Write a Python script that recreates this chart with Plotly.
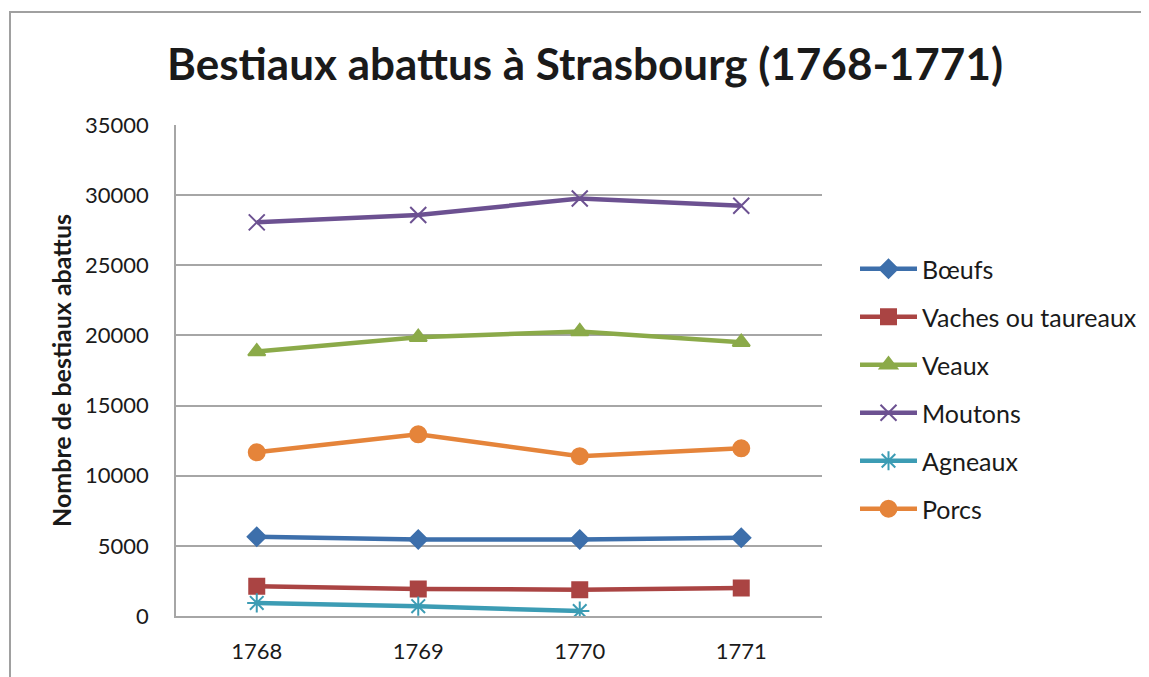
import plotly.graph_objects as go

years = ["1768", "1769", "1770", "1771"]
boeufs = [5650, 5460, 5460, 5580]
vaches = [2120, 1930, 1880, 2000]
veaux = [18850, 19870, 20280, 19520]
moutons = [28060, 28580, 29760, 29240]
agneaux = [930, 700, 350, None]
porcs = [11670, 12950, 11390, 11950]

series = [
    ("Bœufs", boeufs, "#3D6FAB", "diamond", 14),
    ("Vaches ou taureaux", vaches, "#AA4443", "square", 15),
    ("Veaux", veaux, "#8BAA49", "triangle-up", 15),
    ("Moutons", moutons, "#6C5191", "x-thin-open", 16),
    ("Agneaux", agneaux, "#3C9CB4", "asterisk-open", 16),
    ("Porcs", porcs, "#E5843A", "circle", 16),
]

FONT = "Lato, 'Open Sans', sans-serif"
W, H = 1141, 669
L, T, R, B = 168, 117, 814, 608  # plot area in figure px
PW, PH = R - L, B - T

def px(xp):
    return (xp - L) / PW

def py(yp):
    return (B - yp) / PH

fig = go.Figure()
x = list(range(len(years)))
for i, (name, vals, col, sym, sz) in enumerate(series):
    fig.add_trace(go.Scatter(
        x=x, y=vals, name=name, mode="lines+markers",
        line=dict(color=col, width=4.5),
        marker=dict(symbol=sym, size=sz, color=col,
                    line=dict(color=col, width=2)),
        legendgroup=f"g{i}",
        connectgaps=False,
    ))

fig.update_layout(
    width=W, height=H,
    margin=dict(l=L, r=W - R, t=T, b=H - B, autoexpand=False),
    paper_bgcolor="white", plot_bgcolor="white",
    font=dict(family=FONT, size=22, color="#1a1a1a"),
    title=dict(text="<b>Bestiaux abattus à Strasbourg (1768-1771)</b>",
               x=577 / W, xanchor="center", y=1 - 57 / H, yanchor="middle",
               font=dict(size=44, family=FONT, color="#1a1a1a")),
    xaxis=dict(range=[-0.5, 3.5], tickmode="array", tickvals=x, ticktext=years,
               showgrid=False, showline=True, linecolor="#A6A6A6", linewidth=1.5,
               zeroline=False, ticks="", ticklabelstandoff=15,
               tickfont=dict(size=22)),
    yaxis=dict(range=[0, 35000], dtick=5000, tickformat="d",
               showgrid=True, gridcolor="#A6A6A6", gridwidth=1.5,
               showline=True, linecolor="#A6A6A6", linewidth=1.5,
               zeroline=False, ticks="", ticklabelstandoff=21,
               tickfont=dict(size=22),
               title=dict(text="<b>Nombre de bestiaux abattus</b>",
                          font=dict(size=25), standoff=6)),
    legend=dict(x=px(847), y=py(238), xanchor="left", yanchor="top",
                font=dict(size=25), tracegroupgap=12.5, itemwidth=57,
                bgcolor="rgba(0,0,0,0)"),
    showlegend=True,
)

fig.add_shape(type="rect", xref="paper", yref="paper",
              x0=px(2), x1=px(1170),
              y0=py(700), y1=py(4),
              line=dict(color="#A0A0A0", width=2), fillcolor="rgba(0,0,0,0)", layer="below")

fig.write_html("out.html")
